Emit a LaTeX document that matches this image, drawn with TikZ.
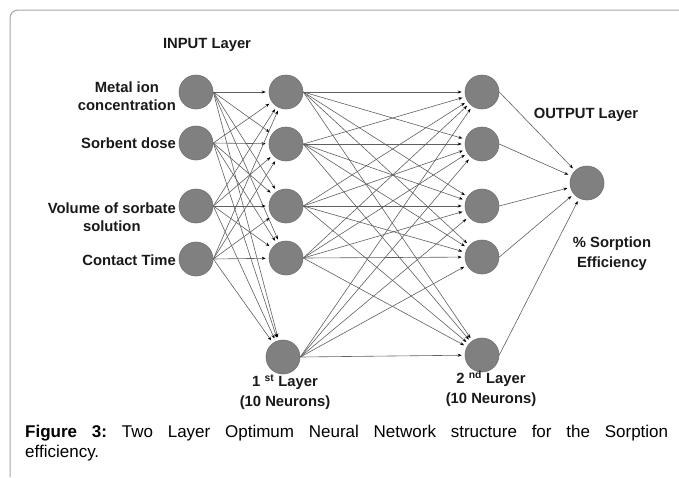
\documentclass[tikz,border=0pt]{standalone}
\usepackage{fontspec}
\setmainfont{Liberation Sans}
\usetikzlibrary{arrows.meta}
\definecolor{nodefill}{RGB}{128,128,128}
\definecolor{nodeedge}{RGB}{112,112,112}
\definecolor{linkcol}{RGB}{95,95,95}
\definecolor{framecol}{RGB}{165,165,165}
\definecolor{labelcol}{RGB}{25,25,25}
\begin{document}
\begin{tikzpicture}[x=1pt,y=-1pt,
  neuron/.style={circle,fill=nodefill,draw=nodeedge,line width=0.6pt,minimum size=34pt,inner sep=0pt},
  lbl/.style={font=\fontsize{14.8}{18}\selectfont\bfseries,text=labelcol,inner sep=0pt},
  lyr/.style={font=\fontsize{14.8}{20}\selectfont\bfseries,text=labelcol,inner sep=0pt,align=center},
  link/.style={draw=linkcol,line width=0.6pt,shorten >=3pt,-{Stealth[length=4pt,width=3pt,fill=black,color=black]}}
]
\useasboundingbox (0,0) rectangle (679,477);
\draw[framecol,line width=1pt,rounded corners=8pt] (679,10) -- (10,10) -- (10,477);

% input layer
\node[neuron] (i1) at (196,92) {};
\node[neuron] (i2) at (196,143) {};
\node[neuron] (i3) at (196,206) {};
\node[neuron] (i4) at (196,259) {};
% first hidden layer
\node[neuron] (a1) at (286,92) {};
\node[neuron] (a2) at (286,144) {};
\node[neuron] (a3) at (286,206) {};
\node[neuron] (a4) at (286,258) {};
\node[neuron] (a5) at (283,357) {};
% second hidden layer
\node[neuron] (b1) at (482,92) {};
\node[neuron] (b2) at (482,144) {};
\node[neuron] (b3) at (482,206) {};
\node[neuron] (b4) at (482,257) {};
\node[neuron] (b5) at (482,355) {};
% output
\node[neuron] (o) at (587,183) {};

\foreach \s in {1,...,4}{
  \foreach \t in {1,...,5}{
    \draw[link] (i\s.east) -- (a\t);
  }
}
\foreach \s in {1,...,5}{
  \foreach \t in {1,...,5}{
    \draw[link] (a\s.east) -- (b\t);
  }
}
\foreach \s in {1,...,5}{
  \draw[link] (b\s.east) -- (o);
}

% labels
\node[lbl] (tin) at (207,45) {INPUT Layer};
\node[lbl,align=center,anchor=east] (l1) at (176,96) {Metal ion\\concentration};
\node[lbl,anchor=east] (l2) at (176,143) {Sorbent dose};
\node[lbl,align=center,anchor=east] (l3) at (176,217) {Volume of sorbate\\solution};
\node[lbl,anchor=east] (l4) at (176,260) {Contact Time};
\node[lbl] (tout) at (586,115) {OUTPUT Layer};
\node[lyr] (teff) at (612,254) {\% Sorption\\Efficiency};
\node[lyr] (t1) at (285,392) {1 \textsuperscript{st} Layer\\(10 Neurons)};
\node[lyr] (t2) at (491,389) {2 \textsuperscript{nd} Layer\\(10 Neurons)};

% caption
\node[anchor=north west,inner sep=0pt] (cap) at (25,425) {\parbox{643pt}{\fontsize{17}{20}\selectfont\frenchspacing
\textbf{Figure 3:} Two Layer Optimum Neural Network structure for the Sorption\linebreak
efficiency.}};
\end{tikzpicture}
\end{document}
